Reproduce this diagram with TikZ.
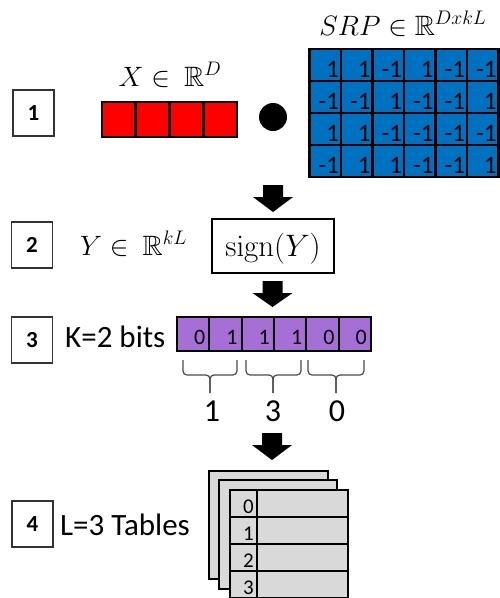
\RequirePackage{fix-cm}
\documentclass[tikz,border=0pt]{standalone}
\usepackage[no-math]{fontspec}
\setmainfont{Carlito}
\usepackage{amssymb}
\definecolor{xred}{HTML}{FF0000}
\definecolor{srpblue}{HTML}{0070C0}
\definecolor{bitpurple}{HTML}{A66FD5}
\definecolor{tabgray}{HTML}{D9D9D9}
\definecolor{bracegray}{HTML}{4A4A4A}
\begin{document}
\begin{tikzpicture}[x=1pt,y=-1pt,
  stepbox/.style={draw=black!80, line width=1.2pt, minimum width=41pt, minimum height=46pt, inner sep=0pt, font=\fontsize{23}{27}\selectfont\bfseries},
  mathlbl/.style={inner sep=0pt, anchor=base, font=\fontsize{28}{33}\selectfont},
  txt/.style={inner sep=0pt, anchor=base west, font=\fontsize{31}{37}\selectfont},
  bignum/.style={inner sep=0pt, anchor=base, font=\fontsize{32}{38}\selectfont},
  redcell/.style={draw=black, line width=2.3pt, fill=xred, minimum width=33.9pt, minimum height=34.4pt, inner sep=0pt},
  srpcell/.style={draw=black, line width=2.3pt, fill=srpblue, minimum width=31.5pt, minimum height=32pt, inner sep=0pt},
  srpnum/.style={inner sep=0pt, anchor=base east, font=\fontsize{25}{29}\selectfont},
  bitcell/.style={draw=black, line width=2.1pt, fill=bitpurple, minimum width=32.33pt, minimum height=34pt, inner sep=0pt},
  bitnum/.style={inner sep=0pt, anchor=base east, font=\fontsize{22}{26}\selectfont},
  sheet/.style={draw=black, line width=2pt, fill=tabgray, inner sep=0pt, anchor=north west},
  idxcell/.style={draw=black, line width=2pt, fill=tabgray, minimum width=27pt, minimum height=27pt, inner sep=0pt, anchor=north west},
  datacell/.style={draw=black, line width=2pt, fill=tabgray, minimum width=91pt, minimum height=27pt, inner sep=0pt, anchor=north west},
  idxnum/.style={inner sep=0pt, anchor=base east, font=\fontsize{21}{25}\selectfont},
  bracepath/.style={draw=bracegray, line width=1.2pt, rounded corners=4pt},
  blockarrow/.style={fill=black}
]
\useasboundingbox (0,0) rectangle (500,598);

% step boxes
\node[stepbox] (s1) at (33.5,113) {1};
\node[stepbox] (s2) at (32,245) {2};
\node[stepbox] (s3) at (32,340) {3};
\node[stepbox] (s4) at (32.5,524) {4};

% step 1
\node[mathlbl] (xlab) at (170,86) {$X \in \ \mathbb{R}^{D}$};
\foreach \i in {0,...,3} {
  \node[redcell] (x\i) at ({101.7+33.9*\i+16.95},119.5) {};
}
\node[circle, fill=black, minimum size=28pt, inner sep=0pt] (dot) at (273,117) {};
\node[mathlbl] (srplab) at (403,35) {$SRP \in \mathbb{R}^{DxkL}$};
\foreach \row [count=\r from 0] in {{1,1,-1,1,-1,-1},{-1,-1,1,-1,-1,1},{1,1,-1,-1,-1,-1},{-1,1,1,-1,-1,1}} {
  \foreach \v [count=\c from 0] in \row {
    \node[srpcell] (m\r\c) at ({309.5+31.5*\c+15.75},{49+32*\r+16}) {};
    \node[srpnum] at ([xshift=-3pt,yshift=5pt]m\r\c.south east) {\v};
  }
}

% arrow 1
\coordinate (a1) at (273,185);
\fill[blockarrow] (a1) +(-10,0) -- +(10,0) -- +(10,12) -- +(20,12) -- +(0,27) -- +(-20,12) -- +(-10,12) -- cycle;

% step 2
\node[mathlbl] (ylab) at (133.5,255) {$Y \in \ \mathbb{R}^{kL}$};
\node[draw=black, line width=1.4pt, minimum width=122pt, minimum height=54pt, inner sep=0pt] (sign) at (273,246) {};
\node[mathlbl, font=\fontsize{31}{36}\selectfont] (signtxt) at (273,256) {$\mathrm{sign}(Y)$};

% arrow 2
\coordinate (a2) at (272.5,281);
\fill[blockarrow] (a2) +(-10,0) -- +(10,0) -- +(10,12) -- +(20,12) -- +(0,26) -- +(-20,12) -- +(-10,12) -- cycle;

% step 3
\node[txt] (klab) at (65,347) {K=2 bits};
\foreach \v [count=\c from 0] in {0,1,1,1,0,0} {
  \node[bitcell] (b\c) at ({177+32.33*\c+16.17},334) {};
  \node[bitnum] at ([xshift=-5pt,yshift=8pt]b\c.south east) {\v};
}
\draw[bracepath] (183,360) -- (183,375) -- (210,375) -- (210,393);
\draw[bracepath] (237,360) -- (237,375) -- (210,375) -- (210,393);
\draw[bracepath] (246,360) -- (246,375) -- (273,375) -- (273,393);
\draw[bracepath] (301,360) -- (301,375) -- (273,375) -- (273,393);
\draw[bracepath] (308,360) -- (308,375) -- (336,375) -- (336,393);
\draw[bracepath] (364,360) -- (364,375) -- (336,375) -- (336,393);
\node[bignum] (n1) at (212,421) {1};
\node[bignum] (n2) at (273,421) {3};
\node[bignum] (n3) at (337,421) {0};

% arrow 3
\coordinate (a3) at (272,433);
\fill[blockarrow] (a3) +(-10,0) -- +(10,0) -- +(10,12) -- +(20,12) -- +(0,27) -- +(-20,12) -- +(-10,12) -- cycle;

% step 4
\node[txt] (llab) at (60,535) {L=3 Tables};
\node[sheet, minimum width=119pt, minimum height=108pt] (t1) at (208,470) {};
\node[sheet, minimum width=118pt, minimum height=109pt] (t2) at (218,479) {};
\foreach \i in {0,...,3} {
  \node[idxcell] (ti\i) at (229,{489+27*\i}) {};
  \node[datacell] (td\i) at (256,{489+27*\i}) {};
  \node[idxnum] at ([xshift=-4pt,yshift=5pt]ti\i.south east) {\i};
}
\end{tikzpicture}
\end{document}
